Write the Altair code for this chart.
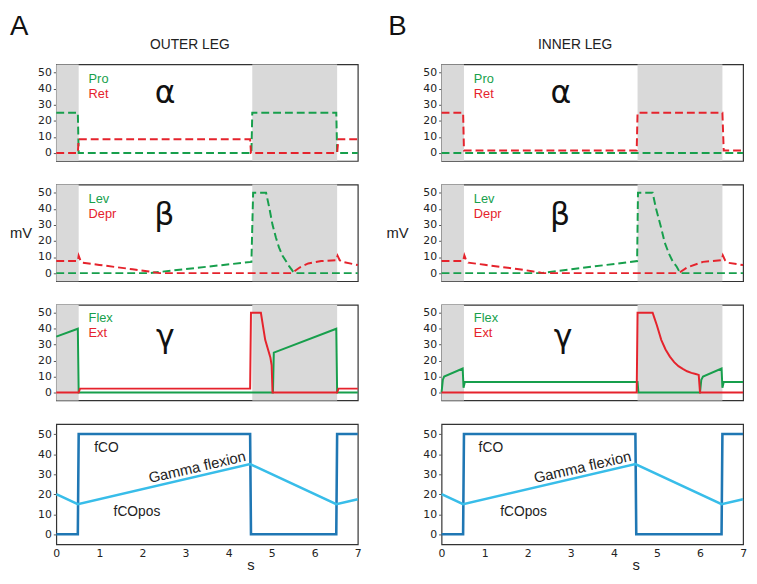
import altair as alt
import pandas as pd

# ---------------- data ----------------
shade_start = [0.0, 4.55]
shade_end = [0.52, 6.52]

# OUTER LEG
o_pro_t = [0, 0.5, 0.52, 4.53, 4.55, 6.5, 6.52, 7]
o_pro_v = [25, 25, 0, 0, 25, 25, 0, 0]
o_ret_t = [0, 0.5, 0.52, 4.5, 4.52, 6.52, 6.55, 7]
o_ret_v = [0, 0, 8.5, 8.5, 0, 0, 8.5, 8.5]

o_lev_t = [0, 2.15, 4.53, 4.57, 4.87, 4.95, 5.02, 5.1, 5.17, 5.25, 5.32, 5.4, 5.47, 5.52, 7]
o_lev_v = [0, 0, 7, 50, 50, 40, 30, 22, 16, 11, 8, 4.5, 2, 0, 0]
o_depr_t = [0, 0.5, 0.52, 0.56, 0.6, 1.0, 1.4, 1.77, 2.15, 2.4, 5.47, 5.65, 5.85, 6.15, 6.5, 6.53, 6.58, 6.64, 7]
o_depr_v = [7.5, 7.5, 10.8, 8, 6.5, 5.1, 3.7, 2.4, 1, 0, 0, 3.5, 6, 7.5, 8, 10.8, 8, 7, 5]

o_flex_t = [0, 0.5, 0.52, 5.03, 5.05, 6.5, 6.52, 7]
o_flex_v = [35, 40, 0, 0, 25, 40, 0, 0]
o_ext_t = [0, 0.52, 0.55, 4.5, 4.52, 4.75, 4.85, 4.97, 5.0, 5.02, 6.52, 6.55, 7]
o_ext_v = [0, 0, 2.4, 2.4, 50, 50, 33, 22, 17, 0, 0, 2.4, 2.4]

# INNER LEG
i_pro_t = [0, 7]
i_pro_v = [0, 0]
i_ret_t = [0, 0.5, 0.52, 4.53, 4.55, 6.52, 6.55, 7]
i_ret_v = [25, 25, 1.5, 1.5, 25, 25, 1.5, 1.5]

i_lev_t = [0, 2.3, 4.54, 4.56, 4.9, 4.98, 5.09, 5.18, 5.28, 5.37, 5.46, 5.54, 7]
i_lev_v = [0, 0, 7.5, 50, 50, 40, 29, 19, 12, 7, 4, 0, 0]
i_depr_t = [0, 0.5, 0.53, 0.57, 0.62, 1.0, 1.4, 1.8, 2.1, 2.35, 5.5, 5.7, 6.07, 6.5, 6.53, 6.58, 6.64, 7]
i_depr_v = [7.5, 7.5, 11, 8, 6.5, 5.2, 3.8, 2.4, 1.2, 0, 0, 3.5, 7, 8, 11, 8, 6.5, 5]

i_flex_t = [0, 0.03, 0.06, 0.49, 0.51, 0.54, 4.55, 4.57, 6.0, 6.03, 6.07, 6.5, 6.52, 6.55, 7]
i_flex_v = [0, 8, 10, 15, 3, 6.5, 6.5, 0, 0, 8, 10, 15, 3, 6.5, 6.5]
i_ext_t = [0, 4.53, 4.55, 4.9, 4.95, 5.0, 5.1, 5.2, 5.3, 5.4, 5.5, 5.6, 5.7, 5.8, 5.9, 5.97, 6.0, 7]
i_ext_v = [0, 0, 50, 50, 46, 42, 33, 27, 22.5, 19, 16.5, 14.8, 13.3, 12.3, 11.6, 11, 0, 0]

# bottom panel (both legs)
fco_t = [0, 0.5, 0.52, 4.5, 4.52, 6.5, 6.52, 7]
fco_v = [0, 0, 50, 50, 0, 0, 50, 50]
gf_t = [0, 0.5, 4.5, 6.5, 7]
gf_v = [20, 15, 35, 15, 17.5]

y_ticks = [0, 10, 20, 30, 40, 50]
x_ticks = [0, 1, 2, 3, 4, 5, 6, 7]

# ---------------- style ----------------
GREEN = "#179f4c"
RED = "#e5232c"
BLUE = "#1f77b4"
LBLUE = "#38bde9"
SHADE = "#d9d9d9"
TXT = "#222222"
FONT = "Liberation Sans"
W = 306
H = [98, 98, 97, 122]


def line_df(series, colors):
    rows = []
    for (name, ts, vs), col in zip(series, colors):
        for i, (t, v) in enumerate(zip(ts, vs)):
            rows.append({"t": t, "v": v, "s": name, "c": col, "o": i})
    return pd.DataFrame(rows)


def panel(series, colors, height, dashed=False, shaded=True, xaxis=False,
          ytitle=None, ytitle_x=-25, texts=(), width_line=2.0, stitle_x=197):
    xs = alt.Scale(domain=[0, 7], nice=False, zero=False)
    ys = alt.Scale(domain=[-5, 55], nice=False, zero=False)
    if xaxis:
        x_axis = alt.Axis(values=x_ticks, title="s", ticks=False, labelPadding=3,
                          labelFlush=False,
                          titleFont=FONT, titleFontSize=15, titleFontWeight="normal",
                          titleColor=TXT, titleX=stitle_x, titleY=26,
                          titleBaseline="alphabetic", format="d")
    else:
        x_axis = None
    ykw = dict(values=y_ticks, format="d")
    if ytitle:
        ykw.update(title=ytitle, titleAngle=0, titleX=ytitle_x, titleY=height / 2,
                   titleAlign="right", titleBaseline="middle", titleFont=FONT,
                   titleFontSize=15, titleFontWeight="normal", titleColor=TXT)
    else:
        ykw.update(title="")
    y_axis = alt.Axis(**ykw)

    def X(f):
        return alt.X(f, scale=xs, axis=x_axis)

    def Y(f):
        return alt.Y(f, scale=ys, axis=y_axis)

    layers = []
    if shaded:
        sdf = pd.DataFrame({"a": shade_start, "b": shade_end})
        layers.append(alt.Chart(sdf).mark_rect(color=SHADE).encode(x=X("a:Q"), x2="b:Q"))
    df = line_df(series, colors)
    mk = dict(strokeWidth=width_line, strokeCap="butt")
    if dashed:
        mk["strokeDash"] = [8, 4]
    layers.append(
        alt.Chart(df).mark_line(**mk).encode(
            x=X("t:Q"), y=Y("v:Q"),
            color=alt.Color("c:N", scale=None, legend=None),
            detail="s:N",
            order="o:Q",
        )
    )
    for (label, t, v, style) in texts:
        tdf = pd.DataFrame({"t": [t], "v": [v], "label": [label]})
        layers.append(alt.Chart(tdf).mark_text(**style).encode(x=X("t:Q"), y=Y("v:Q"), text="label:N"))
    return alt.layer(*layers).properties(width=W, height=height)


def small(color):
    return dict(font=FONT, fontSize=13, color=color, align="left", baseline="middle")


def greek():
    return dict(font="DejaVu Sans", fontSize=32, color="#111", align="center", baseline="middle")


def letter():
    return dict(font=FONT, fontSize=28, color="#111", align="left", baseline="alphabetic")


def head():
    return dict(font=FONT, fontSize=14, color=TXT, align="center", baseline="middle")


def note(angle=0, size=14):
    d = dict(font=FONT, fontSize=size, color=TXT, baseline="middle")
    if angle:
        d.update(angle=angle, align="center")
    else:
        d.update(align="left")
    return d


def column(letter_txt, letter_x, title_txt, mv_x, gx, a_series, b_series, g_series,
           fco_x, fcopos_x):
    p1 = panel(a_series, [GREEN, RED], H[0], dashed=True, texts=[
        ("Pro", 0.75, 45.8, small(GREEN)), ("Ret", 0.75, 36.6, small(RED)),
        ("α", gx[0], 37, greek()),
        (letter_txt, letter_x, 73.4, letter()),
        (title_txt, 3.1, 67.2, head()),
    ])
    p2 = panel(b_series, [GREEN, RED], H[1], dashed=True, ytitle="mV", ytitle_x=mv_x, texts=[
        ("Lev", 0.75, 45.8, small(GREEN)), ("Depr", 0.75, 37, small(RED)),
        ("β", gx[1], 36, greek()),
    ])
    p3 = panel(g_series, [GREEN, RED], H[2], texts=[
        ("Flex", 0.75, 47, small(GREEN)), ("Ext", 0.75, 37, small(RED)),
        ("γ", gx[2], 35, greek()),
    ])
    p4 = panel([("fCO", fco_t, fco_v), ("Gamma flexion", gf_t, gf_v)], [BLUE, LBLUE], H[3],
               shaded=False, xaxis=True, width_line=2.6, texts=[
                   ("fCO", fco_x, 42.8, note()),
                   ("fCOpos", fcopos_x, 11, note()),
                   ("Gamma flexion", 3.27, 33.5, note(angle=347, size=15)),
               ])
    return alt.vconcat(p1, p2, p3, p4, spacing=22)


left = column("A", -1.075, "OUTER LEG", -25, [2.53, 2.51, 2.53],
              [("Pro", o_pro_t, o_pro_v), ("Ret", o_ret_t, o_ret_v)],
              [("Lev", o_lev_t, o_lev_v), ("Depr", o_depr_t, o_depr_v)],
              [("Flex", o_flex_t, o_flex_v), ("Ext", o_ext_t, o_ext_v)],
              0.88, 1.33)
right = column("B", -1.24, "INNER LEG", -34, [2.77, 2.75, 2.82],
               [("Pro", i_pro_t, i_pro_v), ("Ret", i_ret_t, i_ret_v)],
               [("Lev", i_lev_t, i_lev_v), ("Depr", i_depr_t, i_depr_v)],
               [("Flex", i_flex_t, i_flex_v), ("Ext", i_ext_t, i_ext_v)],
               0.86, 1.36)

chart = alt.hconcat(left, right, spacing=21).properties(
    padding={"left": 0, "top": 0, "right": 0, "bottom": 0}
).configure_view(
    stroke="#333333", strokeWidth=1.2
).configure_axis(
    grid=False, domain=False, labelFont="DejaVu Sans", labelFontSize=11, labelColor=TXT,
    tickColor="#555555", tickSize=3, labelPadding=2
)

chart.save("out.html", embed_options={"renderer": "svg", "actions": False})
